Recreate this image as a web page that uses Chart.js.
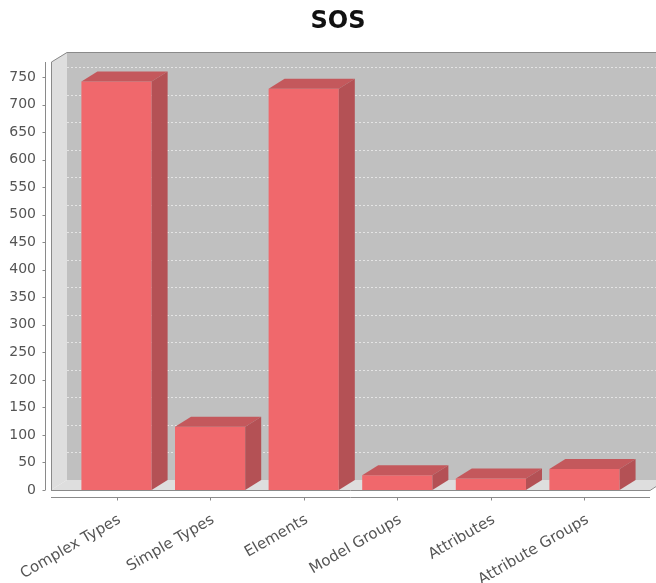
<!DOCTYPE html>
<html>
<head>
<meta charset="utf-8">
<script src="https://cdn.jsdelivr.net/npm/chart.js@4/dist/chart.umd.min.js"></script>
<style>
  html, body { margin: 0; padding: 0; background: #ffffff; }
  #wrap { width: 656px; height: 583px; }
</style>
</head>
<body>
<div id="wrap"><canvas id="c" width="656" height="583"></canvas></div>
<script>
const chartTitle = "SOS";
const categories = ["Complex Types", "Simple Types", "Elements", "Model Groups", "Attributes", "Attribute Groups"];
const counts = [742, 115, 729, 27, 21, 38];
const yTicks = [0, 50, 100, 150, 200, 250, 300, 350, 400, 450, 500, 550, 600, 650, 700, 750];

const DX = 16, DY = 10;
const FRONT = '#f0686c', TOP = '#c4585c', SIDE = '#b45155';

const plot3d = {
  id: 'plot3d',
  beforeDatasetsDraw(chart) {
    const ctx = chart.ctx, a = chart.chartArea, ys = chart.scales.y;
    const L = a.left, R = a.right, T = a.top, B = a.bottom;
    ctx.save();
    ctx.fillStyle = '#c0c0c0';
    ctx.fillRect(L + DX, T - DY, (R + DX) - (L + DX), (B - DY) - (T - DY));
    ctx.fillStyle = '#dedede';
    ctx.beginPath();
    ctx.moveTo(L, T); ctx.lineTo(L + DX, T - DY); ctx.lineTo(L + DX, B - DY); ctx.lineTo(L, B); ctx.closePath();
    ctx.fill();
    ctx.beginPath();
    ctx.moveTo(L, B); ctx.lineTo(L + DX, B - DY); ctx.lineTo(R + DX, B - DY); ctx.lineTo(R, B); ctx.closePath();
    ctx.fill();
    ctx.strokeStyle = '#e4e4e4';
    ctx.lineWidth = 1;
    ctx.setLineDash([2, 2]);
    yTicks.forEach(v => {
      if (v === 0) return;
      const y = Math.round(ys.getPixelForValue(v) - DY) + 0.5;
      ctx.beginPath(); ctx.moveTo(L + DX, y); ctx.lineTo(R + DX, y); ctx.stroke();
    });
    ctx.setLineDash([]);
    ctx.strokeStyle = '#8a8a8a';
    ctx.beginPath();
    ctx.moveTo(L + 0.5, B + 0.5); ctx.lineTo(L + 0.5, T); ctx.lineTo(L + DX, T - DY + 0.5); ctx.lineTo(R + DX, T - DY + 0.5);
    ctx.stroke();
    ctx.beginPath();
    ctx.moveTo(L, B + 0.5); ctx.lineTo(R, B + 0.5); ctx.lineTo(R + DX, B - DY);
    ctx.stroke();
    ctx.restore();
  },
  afterDatasetsDraw(chart) {
    const ctx = chart.ctx;
    const meta = chart.getDatasetMeta(0);
    ctx.save();
    meta.data.forEach(bar => {
      const p = bar.getProps(['x', 'y', 'base', 'width'], true);
      const l = p.x - p.width / 2, r = p.x + p.width / 2, t = p.y, b = p.base;
      ctx.fillStyle = TOP;
      ctx.beginPath();
      ctx.moveTo(l, t); ctx.lineTo(l + DX, t - DY); ctx.lineTo(r + DX, t - DY); ctx.lineTo(r, t); ctx.closePath();
      ctx.fill();
      ctx.fillStyle = SIDE;
      ctx.beginPath();
      ctx.moveTo(r, t); ctx.lineTo(r + DX, t - DY); ctx.lineTo(r + DX, b - DY); ctx.lineTo(r, b); ctx.closePath();
      ctx.fill();
    });
    ctx.restore();
  },
  afterDraw(chart) {
    const ctx = chart.ctx, a = chart.chartArea, ys = chart.scales.y, xs = chart.scales.x;
    ctx.save();
    ctx.strokeStyle = '#8a8a8a';
    ctx.lineWidth = 1;
    const ax = a.left - 5.5;
    ctx.beginPath();
    ctx.moveTo(ax, a.top); ctx.lineTo(ax, ys.getPixelForValue(0));
    yTicks.forEach(v => {
      const y = Math.round(ys.getPixelForValue(v)) + 0.5;
      ctx.moveTo(ax - 3, y); ctx.lineTo(ax, y);
    });
    ctx.stroke();
    const bx = a.bottom + 7.5;
    ctx.beginPath();
    ctx.moveTo(a.left, bx); ctx.lineTo(a.right, bx);
    categories.forEach((c, i) => {
      const x = Math.round(xs.getPixelForValue(i)) + 0.5;
      ctx.moveTo(x, bx); ctx.lineTo(x, bx + 3);
    });
    ctx.stroke();
    ctx.fillStyle = '#111111';
    ctx.font = 'bold 24px "DejaVu Sans"';
    ctx.textAlign = 'center';
    ctx.textBaseline = 'middle';
    ctx.fillText(chartTitle, 338, 22);
    ctx.restore();
  }
};

new Chart(document.getElementById('c'), {
  type: 'bar',
  data: {
    datasets: [{
      data: counts.map((v, i) => ({ x: i, y: v })),
      backgroundColor: FRONT,
      borderWidth: 0,
      barPercentage: 0.75,
      categoryPercentage: 1.0
    }]
  },
  options: {
    responsive: false,
    animation: false,
    layout: { padding: { top: 62, right: 6, left: 0, bottom: 0 } },
    plugins: { legend: { display: false }, tooltip: { enabled: false }, title: { display: false } },
    scales: {
      x: {
        type: 'linear',
        offset: false,
        min: -0.70,
        max: 5.70,
        grid: { display: false, drawTicks: false, offset: false },
        border: { display: false },
        afterBuildTicks: s => { s.ticks = categories.map((c, i) => ({ value: i })); },
        afterFit: s => { s.height = 93; s.paddingLeft = 0; s.paddingRight = 0; },
        ticks: {
          autoSkip: false,
          minRotation: 30,
          maxRotation: 30,
          padding: 21,
          labelOffset: 3,
          color: '#555555',
          font: { family: '"DejaVu Sans"', size: 15 },
          callback: v => categories[v]
        }
      },
      y: {
        min: 0,
        max: 777.5,
        grid: { display: false, drawTicks: false },
        border: { display: false },
        afterBuildTicks: s => { s.ticks = yTicks.map(v => ({ value: v })); },
        afterFit: s => { s.width = 51; s.paddingTop = 0; s.paddingBottom = 0; },
        ticks: {
          padding: 15,
          color: '#555555',
          font: { family: '"DejaVu Sans"', size: 14 }
        }
      }
    }
  },
  plugins: [plot3d]
});
</script>
</body>
</html>
